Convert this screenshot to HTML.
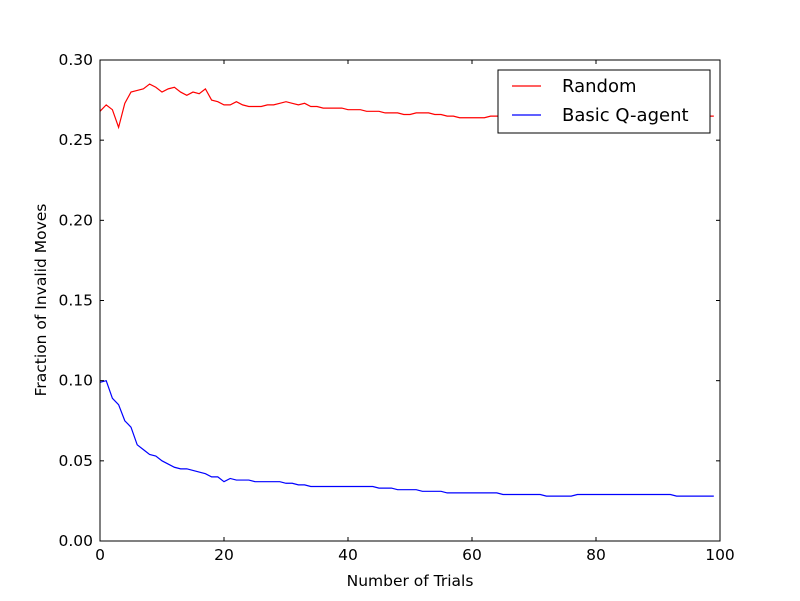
<!DOCTYPE html>
<html><head><meta charset="utf-8">
<style>
html,body{margin:0;padding:0;background:#fff;}
svg{display:block;font-family:"DejaVu Sans","Liberation Sans",sans-serif;}
</style></head>
<body>
<svg id="chart" width="800" height="601" viewBox="0 0 800 601">
<rect x="0" y="0" width="800" height="601" fill="#fff"/>
<g id="plot"></g>
</svg>
<script>
const xTicks=[0,20,40,60,80,100];
const yTicks=[0.00,0.05,0.10,0.15,0.20,0.25,0.30];
const yTickLabels=["0.00","0.05","0.10","0.15","0.20","0.25","0.30"];
const randomSeries=[0.268,0.272,0.269,0.258,0.273,0.280,0.281,0.282,0.285,0.283,0.280,0.282,0.283,0.280,0.278,0.280,0.279,0.282,0.275,0.274,0.272,0.272,0.274,0.272,0.271,0.271,0.271,0.272,0.272,0.273,0.274,0.273,0.272,0.273,0.271,0.271,0.270,0.270,0.270,0.270,0.269,0.269,0.269,0.268,0.268,0.268,0.267,0.267,0.267,0.266,0.266,0.267,0.267,0.267,0.266,0.266,0.265,0.265,0.264,0.264,0.264,0.264,0.264,0.265,0.265,0.265,0.265,0.265,0.265,0.265,0.265,0.265,0.265,0.265,0.265,0.265,0.265,0.265,0.265,0.265,0.265,0.265,0.265,0.265,0.265,0.265,0.265,0.265,0.265,0.265,0.265,0.265,0.265,0.265,0.265,0.265,0.265,0.265,0.265,0.265];
const qAgentSeries=[0.099,0.100,0.089,0.085,0.075,0.071,0.060,0.057,0.054,0.053,0.050,0.048,0.046,0.045,0.045,0.044,0.043,0.042,0.040,0.040,0.037,0.039,0.038,0.038,0.038,0.037,0.037,0.037,0.037,0.037,0.036,0.036,0.035,0.035,0.034,0.034,0.034,0.034,0.034,0.034,0.034,0.034,0.034,0.034,0.034,0.033,0.033,0.033,0.032,0.032,0.032,0.032,0.031,0.031,0.031,0.031,0.030,0.030,0.030,0.030,0.030,0.030,0.030,0.030,0.030,0.029,0.029,0.029,0.029,0.029,0.029,0.029,0.028,0.028,0.028,0.028,0.028,0.029,0.029,0.029,0.029,0.029,0.029,0.029,0.029,0.029,0.029,0.029,0.029,0.029,0.029,0.029,0.029,0.028,0.028,0.028,0.028,0.028,0.028,0.028];

const X0=100,X1=720,Y0=541,Y1=60;
const sx=v=>X0+(v-0)/(100-0)*(X1-X0);
const sy=v=>Y0-(v-0)/(0.30-0)*(Y0-Y1);
const NS="http://www.w3.org/2000/svg";
const g=document.getElementById('plot');
function mk(tag,attrs,parent){const e=document.createElementNS(NS,tag);for(const k in attrs)e.setAttribute(k,attrs[k]);(parent||g).appendChild(e);return e;}

function series(vals,color,name){
  const d=vals.map((v,i)=>(i?'L':'M')+sx(i).toFixed(2)+','+sy(v).toFixed(2)).join(' ');
  const p=mk('path',{d:d,fill:'none',stroke:color,'stroke-width':1.2});
  
  
}
series(randomSeries,'#ff0000','random-line');
series(qAgentSeries,'#0000ff','q-agent-line');

// axes frame
const fr=mk('rect',{x:X0,y:Y1,width:X1-X0,height:Y0-Y1,fill:'none',stroke:'#000','stroke-width':1});



xTicks.forEach(t=>{
  const x=sx(t);
  mk('line',{x1:x,y1:Y0,x2:x,y2:Y0-4,stroke:'#000'});
  mk('line',{x1:x,y1:Y1,x2:x,y2:Y1+4,stroke:'#000'});
  const tx=mk('text',{x:x,y:Y0+19,'text-anchor':'middle','font-size':'15.5'});
  tx.textContent=t;
  
  
});
yTicks.forEach((t,i)=>{
  const y=sy(t);
  mk('line',{x1:X0,y1:y,x2:X0+4,y2:y,stroke:'#000'});
  mk('line',{x1:X1,y1:y,x2:X1-4,y2:y,stroke:'#000'});
  const tx=mk('text',{x:X0-7,y:y+5,'text-anchor':'end','font-size':'15.5'});
  tx.textContent=yTickLabels[i];
  
  
});
const xt=mk('text',{x:410,y:586,'text-anchor':'middle','font-size':'15.5'});
xt.textContent='Number of Trials';


const yt=mk('text',{x:46,y:300,'text-anchor':'middle','font-size':'15.5',transform:'rotate(-90 46 300)'});
yt.textContent='Fraction of Invalid Moves';



// legend
const lg=mk('g',{});


mk('rect',{x:498,y:70,width:212,height:63,fill:'#fff',stroke:'#000','stroke-width':1},lg);
const entries=[['Random','#ff0000',86],['Basic Q-agent','#0000ff',115]];
entries.forEach(e=>{
  const eg=mk('g',{},lg);
  
  
  mk('line',{x1:512,y1:e[2],x2:541,y2:e[2],stroke:e[1],'stroke-width':1.2},eg);
  const t=mk('text',{x:562,y:e[2]+6,'font-size':'18'},eg);
  t.textContent=e[0];
});
</script>
</body></html>
